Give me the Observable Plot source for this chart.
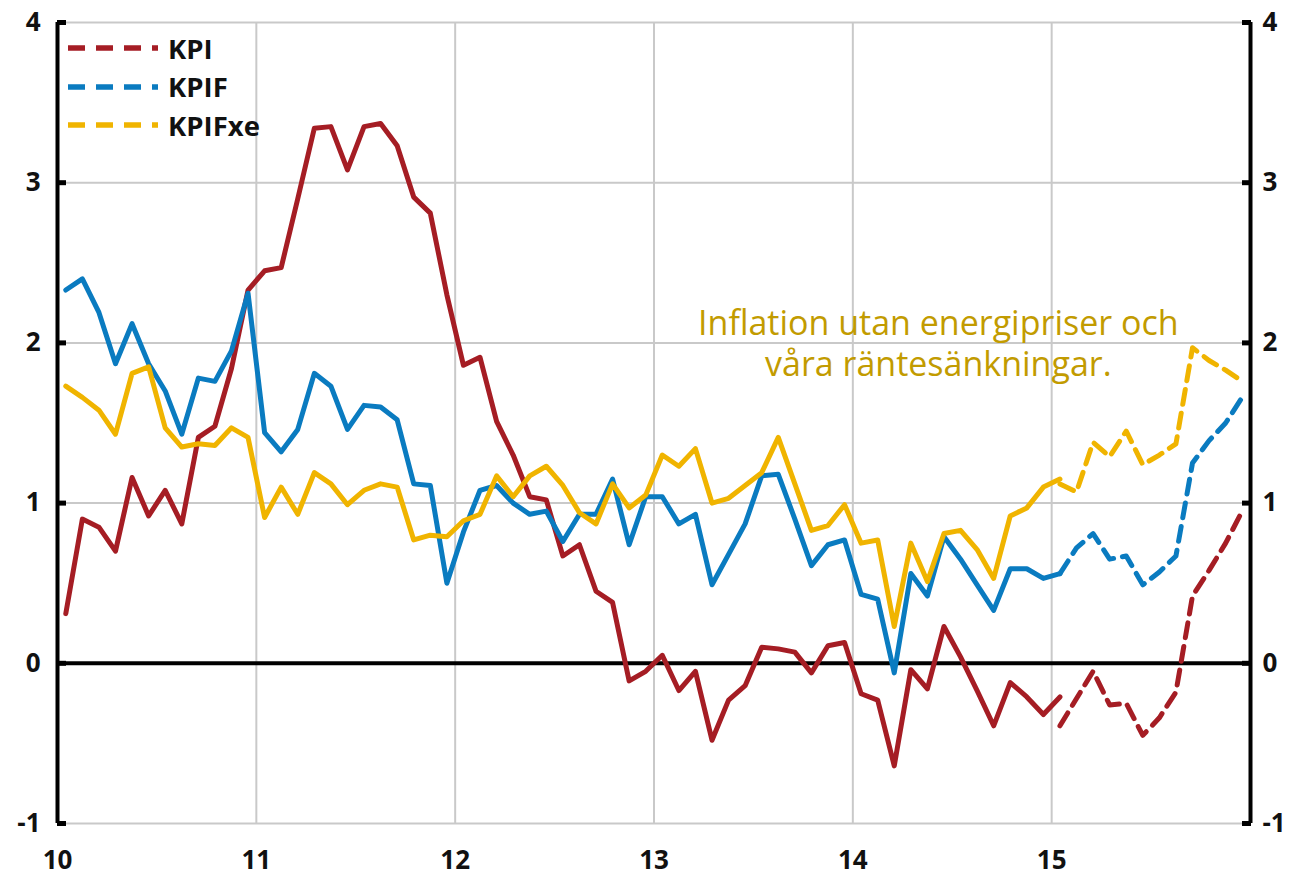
<!DOCTYPE html>
<html>
<head>
<meta charset="utf-8">
<script src="https://cdn.jsdelivr.net/npm/d3@7"></script>
<script src="https://cdn.jsdelivr.net/npm/@observablehq/plot@0.6"></script>
<style>
  html, body { margin: 0; padding: 0; background: #fff; }
  #wrap { position: relative; width: 1289px; height: 878px; font-family: "Open Sans", sans-serif; }
  #legend { position: absolute; left: 66px; top: 29px; }
  .row { display: flex; align-items: center; height: 38.5px; }
  .row span { font-weight: 700; font-size: 27.5px; color: #111; margin-left: 8px; line-height: 1; }
</style>
</head>
<body>
<div id="wrap"><div id="legend"></div></div>
<script>
// Series names and colours
const seriesNames = ["KPI", "KPIF", "KPIFxe"];
const seriesColors = ["#A51D24", "#0A7BC0", "#F0B400"];

// Monthly outcomes Jan 2010 .. Jan 2015 (annual % change)
const kpi = [0.31, 0.90, 0.85, 0.70, 1.16, 0.92, 1.08, 0.87, 1.41, 1.48, 1.84, 2.33,
  2.45, 2.47, 2.90, 3.34, 3.35, 3.08, 3.35, 3.37, 3.23, 2.91, 2.81, 2.30,
  1.86, 1.91, 1.51, 1.30, 1.04, 1.02, 0.67, 0.74, 0.45, 0.38, -0.11, -0.05,
  0.05, -0.17, -0.05, -0.48, -0.23, -0.14, 0.10, 0.09, 0.07, -0.06, 0.11, 0.13,
  -0.19, -0.23, -0.64, -0.04, -0.16, 0.23, 0.04, -0.17, -0.39, -0.12, -0.21, -0.32,
  -0.21];
const kpif = [2.33, 2.40, 2.19, 1.87, 2.12, 1.87, 1.70, 1.43, 1.78, 1.76, 1.95, 2.31,
  1.44, 1.32, 1.46, 1.81, 1.73, 1.46, 1.61, 1.60, 1.52, 1.12, 1.11, 0.50,
  0.82, 1.08, 1.11, 1.00, 0.93, 0.95, 0.76, 0.93, 0.93, 1.15, 0.74, 1.04,
  1.04, 0.87, 0.93, 0.49, 0.68, 0.87, 1.17, 1.18, 0.90, 0.61, 0.74, 0.77,
  0.43, 0.40, -0.06, 0.56, 0.42, 0.79, 0.65, 0.49, 0.33, 0.59, 0.59, 0.53,
  0.56];
const kpifxe = [1.73, 1.66, 1.58, 1.43, 1.81, 1.85, 1.47, 1.35, 1.37, 1.36, 1.47, 1.41,
  0.91, 1.10, 0.93, 1.19, 1.12, 0.99, 1.08, 1.12, 1.10, 0.77, 0.80, 0.79,
  0.89, 0.93, 1.17, 1.04, 1.17, 1.23, 1.11, 0.94, 0.87, 1.12, 0.97, 1.05,
  1.30, 1.23, 1.34, 1.00, 1.03, 1.11, 1.19, 1.41, 1.12, 0.83, 0.86, 0.99,
  0.75, 0.77, 0.23, 0.75, 0.51, 0.81, 0.83, 0.71, 0.53, 0.92, 0.97, 1.10,
  1.15];

// Forecasts Jan 2015 .. Dec 2015 (dashed)
const kpiFc = [-0.39, -0.22, -0.05, -0.26, -0.25, -0.45, -0.34, -0.18, 0.42, 0.58, 0.75, 0.95];
const kpifFc = [0.56, 0.72, 0.81, 0.65, 0.67, 0.49, 0.57, 0.67, 1.25, 1.39, 1.50, 1.66];
const kpifxeFc = [1.12, 1.07, 1.38, 1.29, 1.45, 1.24, 1.30, 1.37, 1.97, 1.89, 1.83, 1.76];

// Axis ticks
const xTicks = [10, 11, 12, 13, 14, 15];
const yTicks = [-1, 0, 1, 2, 3, 4];

// Annotation (two lines)
const noteLines = ["Inflation utan energipriser och", "våra räntesänkningar."];
const noteX = 14.43, noteY = [2.12, 1.86];

const startYear = 10;      // 2010
const forecastStart = 60;  // Jan 2015 (month index)

function toRows(values, name, offset) {
  return values.map((v, i) => ({x: startYear + (i + offset + 0.5) / 12, y: v, s: name}));
}
const actual = [
  ...toRows(kpi, "KPI", 0), ...toRows(kpif, "KPIF", 0), ...toRows(kpifxe, "KPIFxe", 0)
];
const forecast = [
  ...toRows(kpiFc, "KPI", forecastStart), ...toRows(kpifFc, "KPIF", forecastStart), ...toRows(kpifxeFc, "KPIFxe", forecastStart)
];
const notes = noteLines.map((t, k) => ({t, x: noteX, y: noteY[k]}));

const colorScale = {domain: seriesNames, range: seriesColors};
const fmt = d => String(d);

const chart = Plot.plot({
  width: 1289,
  height: 878,
  marginLeft: 57,
  marginRight: 39,
  marginTop: 22,
  marginBottom: 55,
  style: {background: "#fff", fontFamily: "Open Sans, sans-serif", color: "#111"},
  x: {domain: [10, 16], label: null},
  y: {domain: [-1, 4], label: null},
  color: colorScale,
  marks: [
    Plot.gridY(yTicks, {stroke: "#c9c9c9", strokeOpacity: 1, strokeWidth: 2}),
    Plot.gridX(xTicks.slice(1), {stroke: "#c9c9c9", strokeOpacity: 1, strokeWidth: 2}),
    Plot.ruleY([0], {stroke: "#000", strokeWidth: 4}),
    Plot.line(forecast, {x: "x", y: "y", z: "s", stroke: "s", strokeWidth: 5, strokeDasharray: "15,9"}),
    Plot.line(actual, {x: "x", y: "y", z: "s", stroke: "s", strokeWidth: 5}),
    Plot.text(notes, {x: "x", y: "y", text: "t", fill: "#C29B00", fontSize: 34, fontWeight: 400, textAnchor: "middle", lineAnchor: "middle"}),
    Plot.ruleX([10, 16], {stroke: "#000", strokeWidth: 4}),
    Plot.axisY(yTicks, {anchor: "left", tickSize: -9, tickPadding: 26, strokeWidth: 5, stroke: "#000", fontSize: 26, fontWeight: 700, tickFormat: fmt, fill: "#111"}),
    Plot.axisY(yTicks, {anchor: "right", tickSize: -9, tickPadding: 21, strokeWidth: 5, stroke: "#000", fontSize: 26, fontWeight: 700, tickFormat: fmt, fill: "#111"}),
    Plot.axisX(xTicks, {anchor: "bottom", tickSize: 0, tickPadding: 27, fontSize: 26, fontWeight: 700, tickFormat: fmt, fill: "#111"})
  ]
});
document.getElementById("wrap").prepend(chart);

// Legend (dashed swatches)
const legend = document.getElementById("legend");
seriesNames.forEach((name, k) => {
  const row = document.createElement("div");
  row.className = "row";
  row.innerHTML = `<svg width="94" height="10"><line x1="2" x2="92" y1="5" y2="5" stroke="${seriesColors[k]}" stroke-width="5.5" stroke-dasharray="17,11"/></svg><span>${name}</span>`;
  legend.appendChild(row);
});
</script>
</body>
</html>
